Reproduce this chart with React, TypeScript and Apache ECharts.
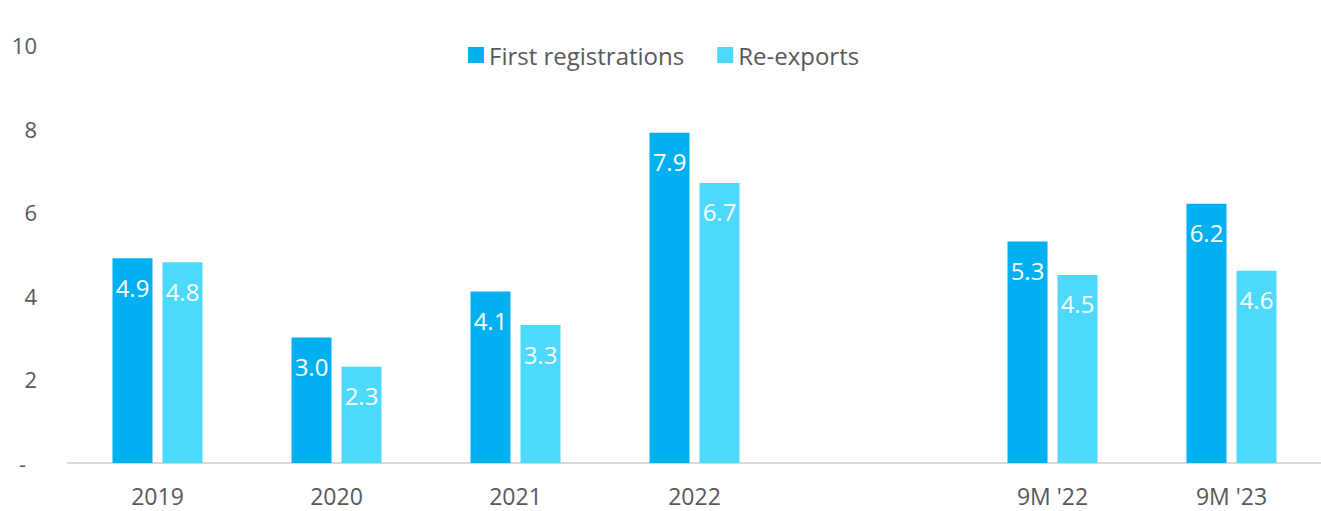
import React, { useEffect, useRef } from "react";
import * as echarts from "echarts";

const categories = ["2019", "2020", "2021", "2022", "", "9M '22", "9M '23"];
const firstRegistrations = [4.9, 3.0, 4.1, 7.9, null, 5.3, 6.2];
const reExports = [4.8, 2.3, 3.3, 6.7, null, 4.5, 4.6];
const seriesNames = ["First registrations", "Re-exports"];
const colors = ["#00B0F0", "#4CD9FB"];

const FONT = "'Open Sans', 'Noto Sans', sans-serif";

export default function App() {
  const ref = useRef<HTMLDivElement>(null);
  useEffect(() => {
    if (!ref.current) return;
    const chart = echarts.init(ref.current, undefined, { renderer: "svg" });
    const label = {
      show: true,
      position: "insideTop",
      distance: 17,
      color: "#ffffff",
      fontSize: 24,
      fontFamily: FONT,
      formatter: (p: any) => Number(p.value).toFixed(1),
    };
    chart.setOption({
      animation: false,
      textStyle: { fontFamily: FONT },
      legend: {
        left: 463,
        top: 38,
        itemWidth: 16,
        itemHeight: 16,
        itemGap: 33,
        icon: "rect",
        textStyle: { fontSize: 24, color: "#595959", fontFamily: FONT },
        data: seriesNames,
      },
      grid: { left: 68, right: 0, top: 45, bottom: 48, containLabel: false },
      xAxis: {
        type: "category",
        data: categories,
        axisLine: { show: true, lineStyle: { color: "#d9d9d9", width: 2 } },
        axisTick: { show: false },
        axisLabel: { color: "#595959", fontSize: 23, margin: 21, fontFamily: FONT },
      },
      yAxis: {
        type: "value",
        min: 0,
        max: 10,
        interval: 2,
        splitLine: { show: false },
        axisLine: { show: false },
        axisTick: { show: false },
        axisLabel: {
          color: "#595959",
          fontSize: 22,
          margin: 31,
          fontFamily: FONT,
          formatter: (v: number) => (v === 0 ? "{d|-}" : String(v)),
          rich: { d: { color: "#595959", fontSize: 22, fontFamily: FONT, padding: [0, 11, 0, 0] } },
        },
      },
      series: [
        {
          name: seriesNames[0],
          type: "bar",
          data: firstRegistrations,
          barWidth: 40,
          barGap: "25%",
          itemStyle: { color: colors[0] },
          label,
        },
        {
          name: seriesNames[1],
          type: "bar",
          data: reExports,
          barWidth: 40,
          barGap: "25%",
          itemStyle: { color: colors[1] },
          label,
        },
      ],
    });
    return () => chart.dispose();
  }, []);
  return (
    <div
      ref={ref}
      style={{ position: "fixed", left: 0, top: 0, width: 1321, height: 511, background: "#ffffff" }}
    />
  );
}
